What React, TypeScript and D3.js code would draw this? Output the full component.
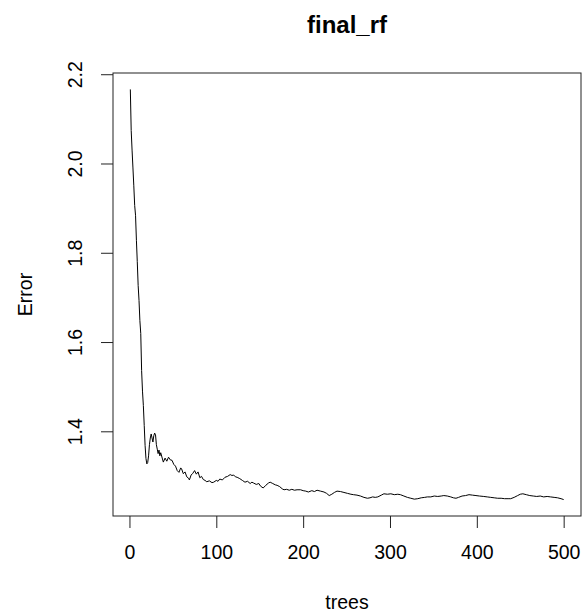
import React, { useRef, useEffect } from "react";
import { select, scaleLinear, axisBottom, axisLeft, line, extent } from "d3";

// OOB error per number of trees
const trees = [
  1, 2, 3, 4, 5, 6, 7, 8, 9, 10, 11, 12, 13, 14, 15, 16, 17, 18, 19, 20,
  21, 22, 23, 24, 25, 26, 27, 28, 29, 30, 31, 32, 33, 34, 35, 36, 38, 39, 41, 43,
  45, 47, 49, 51, 53, 55, 57, 59, 60, 62, 64, 66, 68, 69, 71, 73, 75, 77, 79, 81,
  83, 85, 87, 89, 92, 95, 97, 100, 102, 104, 107, 110, 113, 116, 118, 120, 122, 124, 127, 130,
  133, 136, 139, 141, 143, 146, 149, 151, 154, 157, 160, 162, 165, 168, 170, 173, 176, 178, 181, 184,
  187, 190, 193, 197, 200, 203, 206, 210, 213, 216, 220, 224, 227, 230, 233, 236, 239, 243, 247, 251,
  255, 258, 262, 266, 270, 274, 277, 280, 283, 286, 290, 293, 297, 301, 305, 309, 312, 316, 320, 324,
  328, 332, 336, 340, 343, 347, 351, 355, 359, 362, 366, 370, 373, 376, 379, 383, 387, 391, 395, 399,
  403, 408, 412, 416, 420, 424, 428, 432, 436, 439, 443, 447, 450, 453, 457, 461, 465, 469, 473, 477,
  481, 485, 489, 493, 497, 500,
];

const errors = [
  2.166, 2.074, 2.03, 1.99, 1.95, 1.906, 1.884, 1.828, 1.78, 1.727, 1.693, 1.648, 1.619, 1.536, 1.49, 1.458, 1.413, 1.368, 1.339, 1.327,
  1.33, 1.345, 1.37, 1.385, 1.394, 1.385, 1.376, 1.39, 1.396, 1.392, 1.37, 1.36, 1.35, 1.358, 1.345, 1.352, 1.338, 1.331, 1.34, 1.333,
  1.342, 1.336, 1.335, 1.326, 1.322, 1.312, 1.308, 1.318, 1.316, 1.305, 1.309, 1.298, 1.295, 1.291, 1.302, 1.306, 1.312, 1.304, 1.309, 1.296,
  1.299, 1.292, 1.29, 1.287, 1.289, 1.285, 1.286, 1.29, 1.288, 1.293, 1.291, 1.297, 1.299, 1.303, 1.301, 1.302, 1.298, 1.297, 1.294, 1.29,
  1.286, 1.288, 1.283, 1.286, 1.284, 1.281, 1.283, 1.277, 1.273, 1.279, 1.284, 1.286, 1.283, 1.28, 1.279, 1.276, 1.271, 1.269, 1.27, 1.268,
  1.27, 1.268, 1.269, 1.269, 1.267, 1.266, 1.264, 1.267, 1.265, 1.268, 1.266, 1.264, 1.261, 1.256, 1.259, 1.263, 1.266, 1.265, 1.263, 1.261,
  1.259, 1.258, 1.257, 1.255, 1.252, 1.25, 1.251, 1.253, 1.252, 1.253, 1.257, 1.26, 1.259, 1.26, 1.258, 1.259, 1.258, 1.255, 1.252, 1.25,
  1.248, 1.249, 1.251, 1.252, 1.253, 1.253, 1.255, 1.254, 1.255, 1.256, 1.255, 1.253, 1.251, 1.25, 1.252, 1.255, 1.256, 1.258, 1.257, 1.256,
  1.255, 1.254, 1.253, 1.252, 1.251, 1.25, 1.25, 1.249, 1.249, 1.249, 1.252, 1.256, 1.259, 1.26, 1.258, 1.256, 1.255, 1.254, 1.255, 1.253,
  1.254, 1.253, 1.252, 1.251, 1.249, 1.247,
];

const xTicks = [0, 100, 200, 300, 400, 500];
const yTicks = [1.4, 1.6, 1.8, 2.0, 2.2];

const FONT = "'Liberation Sans', Arial, Helvetica, sans-serif";

const ErrorChart = ({
  width = 587,
  height = 613,
  plotLeft = 113,
  plotRight = 581,
  plotTop = 73,
  plotBottom = 516,
}) => {
  const svgRef = useRef(null);

  useEffect(() => {
    const svg = select(svgRef.current);
    svg.selectAll("*").remove();

    // R style: extend the data range by 4% on each side
    const [x0, x1] = extent(trees);
    const [y0, y1] = extent(errors);
    const xPad = (x1 - x0) * 0.04;
    const yPad = (y1 - y0) * 0.04;

    const xScale = scaleLinear()
      .domain([x0 - xPad, x1 + xPad])
      .range([plotLeft, plotRight]);
    const yScale = scaleLinear()
      .domain([y0 - yPad, y1 + yPad])
      .range([plotBottom, plotTop]);

    const data = trees.map((t, i) => ({ t, e: errors[i] }));

    // error curve
    svg
      .append("path")
      .datum(data)
      .attr("fill", "none")
      .attr("stroke", "#000")
      .attr("stroke-width", 1)
      .attr("stroke-linejoin", "round")
      .attr(
        "d",
        line()
          .x((d) => xScale(d.t))
          .y((d) => yScale(d.e))
      );

    // plot box
    svg
      .append("rect")
      .attr("x", plotLeft)
      .attr("y", plotTop)
      .attr("width", plotRight - plotLeft)
      .attr("height", plotBottom - plotTop)
      .attr("fill", "none")
      .attr("stroke", "#222")
      .attr("stroke-width", 1);

    // x axis
    svg
      .append("g")
      .attr("transform", `translate(0,${plotBottom})`)
      .call(
        axisBottom(xScale)
          .tickValues(xTicks)
          .tickSize(12)
          .tickSizeOuter(0)
          .tickPadding(17)
      )
      .call((g) => g.select(".domain").remove())
      .call((g) => g.selectAll(".tick line").attr("stroke", "#222"))
      .call((g) =>
        g
          .selectAll(".tick text")
          .attr("fill", "#000")
          .style("font-family", FONT)
          .style("font-size", "19.5px")
      );

    // y axis, labels rotated like R's las=0
    svg
      .append("g")
      .attr("transform", `translate(${plotLeft},0)`)
      .call(
        axisLeft(yScale)
          .tickValues(yTicks)
          .tickSize(12)
          .tickSizeOuter(0)
          .tickFormat((d) => d.toFixed(1))
      )
      .call((g) => g.select(".domain").remove())
      .call((g) => g.selectAll(".tick line").attr("stroke", "#222"))
      .call((g) =>
        g
          .selectAll(".tick text")
          .attr("x", 0)
          .attr("dy", "0.35em")
          .attr("text-anchor", "middle")
          .attr("transform", "translate(-38,0) rotate(-90)")
          .attr("fill", "#000")
          .style("font-family", FONT)
          .style("font-size", "19.5px")
      );

    const midX = (plotLeft + plotRight) / 2;
    const midY = (plotTop + plotBottom) / 2;

    svg
      .append("text")
      .attr("x", midX)
      .attr("y", 33)
      .attr("text-anchor", "middle")
      .style("font-family", FONT)
      .style("font-size", "24px")
      .style("font-weight", "bold")
      .text("final_rf");

    svg
      .append("text")
      .attr("x", midX)
      .attr("y", 609)
      .attr("text-anchor", "middle")
      .style("font-family", FONT)
      .style("font-size", "19.5px")
      .text("trees");

    svg
      .append("text")
      .attr("transform", `translate(25,${midY}) rotate(-90)`)
      .attr("dy", "0.35em")
      .attr("text-anchor", "middle")
      .style("font-family", FONT)
      .style("font-size", "19.5px")
      .text("Error");
  }, []);

  return (
    <svg
      ref={svgRef}
      width={width}
      height={height}
      style={{ position: "absolute", left: 0, top: 0, background: "#fff" }}
    />
  );
};

export default function App() {
  return <ErrorChart />;
}
